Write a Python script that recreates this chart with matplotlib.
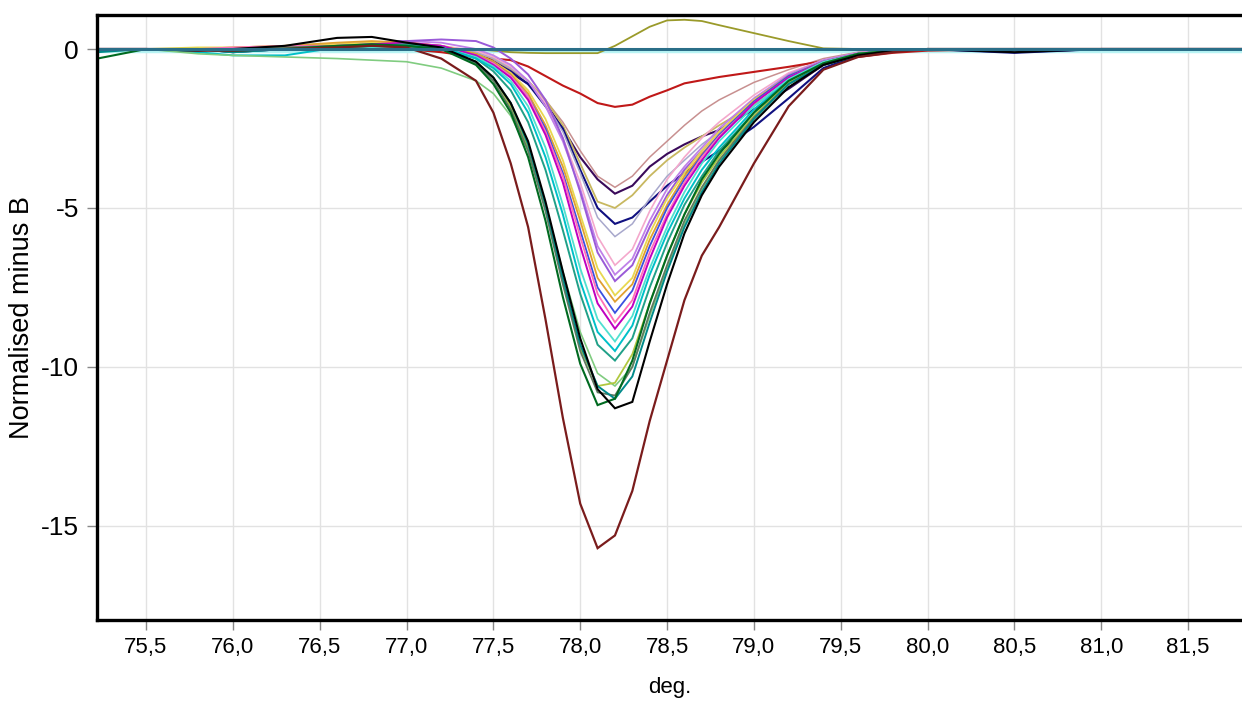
import matplotlib
matplotlib.use('Agg')
import matplotlib.pyplot as plt

plt.rcParams['font.family'] = ['Liberation Sans', 'DejaVu Sans']

# angle grid (deg.)
x_deg = [75.22, 75.5, 75.8, 76.0, 76.3, 76.6, 76.8, 77.0, 77.2, 77.4, 77.5,
         77.6, 77.7, 77.8, 77.9, 78.0, 78.1, 78.2, 78.3, 78.4, 78.5, 78.6,
         78.7, 78.8, 79.0, 79.2, 79.4, 79.6, 79.8, 80.0, 80.5, 81.0, 81.81]

maroon = [0.0, 0.0, -0.05, -0.05, 0.0, 0.05, 0.1, 0.05, -0.3, -1.0, -2.0,
          -3.6, -5.6, -8.5, -11.6, -14.3, -15.7, -15.3, -13.9, -11.7, -9.8, -7.9,
          -6.5, -5.6, -3.6, -1.8, -0.65, -0.25, -0.1, 0.0, 0.0, 0.0, 0.0]
black = [0.0, 0.0, -0.05, 0.0, 0.1, 0.35, 0.38, 0.2, 0.05, -0.4, -0.9,
         -1.7, -2.9, -4.8, -7.0, -9.1, -10.7, -11.3, -11.1, -9.2, -7.4, -5.8,
         -4.6, -3.7, -2.3, -1.2, -0.5, -0.2, -0.05, 0.0, -0.1, 0.0, 0.0]
dgreen = [-0.3, 0.0, 0.0, -0.05, 0.0, 0.1, 0.15, 0.1, 0.0, -0.5, -1.1,
          -2.0, -3.4, -5.4, -7.8, -9.9, -11.2, -11.0, -9.8, -8.0, -6.5, -5.2,
          -4.1, -3.3, -2.0, -1.0, -0.45, -0.15, -0.05, 0.0, 0.0, 0.0, 0.0]
teal = [-0.1, 0.0, 0.0, -0.1, 0.0, 0.05, 0.1, 0.1, 0.0, -0.4, -0.9,
        -1.7, -3.0, -4.9, -7.2, -9.3, -10.6, -11.0, -10.3, -8.6, -7.0, -5.6,
        -4.5, -3.6, -2.2, -1.1, -0.5, -0.2, -0.05, 0.0, 0.0, 0.0, 0.0]
grayolive = [0.0, 0.0, 0.0, 0.0, 0.05, 0.1, 0.1, 0.1, 0.0, -0.45, -1.0,
             -1.9, -3.2, -5.1, -7.4, -9.5, -10.8, -10.9, -10.0, -8.3, -6.8, -5.4,
             -4.35, -3.5, -2.15, -1.1, -0.5, -0.2, -0.05, 0.0, 0.0, 0.0, 0.0]
yellowgreen = [0.0, 0.0, 0.0, 0.0, 0.0, 0.05, 0.1, 0.1, 0.0, -0.4, -0.9,
               -1.8, -3.1, -5.0, -7.3, -9.4, -10.6, -10.5, -9.6, -8.0, -6.5, -5.2,
               -4.2, -3.4, -2.1, -1.05, -0.45, -0.15, -0.05, 0.0, 0.0, 0.0, 0.0]
lightgreen = [0.0, 0.0, -0.15, -0.2, -0.25, -0.3, -0.35, -0.4, -0.6, -1.0, -1.4,
              -2.1, -3.2, -4.9, -7.0, -8.9, -10.2, -10.6, -10.0, -8.4, -6.9, -5.5,
              -4.4, -3.5, -2.2, -1.1, -0.5, -0.2, -0.05, 0.0, 0.0, 0.0, 0.0]
cyan = [0.0, 0.0, -0.1, -0.2, -0.2, 0.05, 0.1, 0.1, 0.05, -0.3, -0.6,
        -1.1, -2.0, -3.4, -5.2, -7.3, -8.9, -9.5, -8.7, -7.1, -5.8, -4.7,
        -3.8, -3.1, -1.9, -1.0, -0.45, -0.15, -0.05, 0.0, 0.0, 0.0, 0.0]
seagreen = [-0.05, 0.0, 0.0, -0.1, 0.0, 0.05, 0.1, 0.15, 0.05, -0.3, -0.7,
            -1.3, -2.3, -3.8, -5.7, -7.7, -9.3, -9.8, -9.1, -7.5, -6.1, -4.9,
            -4.0, -3.2, -2.0, -1.05, -0.45, -0.15, -0.05, 0.0, 0.0, 0.0, 0.0]
turquoise = [0.0, 0.0, 0.0, 0.0, 0.0, 0.0, 0.05, 0.1, 0.05, -0.25, -0.55,
             -1.0, -1.8, -3.1, -4.9, -6.9, -8.5, -9.2, -8.4, -6.9, -5.6, -4.5,
             -3.6, -2.9, -1.8, -0.95, -0.4, -0.15, -0.05, 0.0, 0.0, 0.0, 0.0]
magenta = [0.0, 0.0, 0.0, 0.0, 0.0, 0.05, 0.15, 0.2, 0.1, -0.2, -0.5,
           -0.9, -1.6, -2.7, -4.2, -6.2, -8.0, -8.8, -8.1, -6.6, -5.3, -4.3,
           -3.5, -2.8, -1.7, -0.9, -0.4, -0.15, -0.05, 0.0, 0.0, 0.0, 0.0]
hotpink = [0.0, 0.0, 0.0, 0.05, 0.1, 0.1, 0.15, 0.15, 0.1, -0.2, -0.45,
           -0.85, -1.5, -2.6, -4.0, -5.9, -7.7, -8.6, -7.9, -6.4, -5.2, -4.2,
           -3.4, -2.75, -1.7, -0.9, -0.4, -0.15, -0.05, 0.0, 0.0, 0.0, 0.0]
blue = [0.0, 0.0, 0.0, -0.05, 0.0, 0.1, 0.15, 0.15, 0.1, -0.2, -0.45,
        -0.85, -1.5, -2.5, -3.9, -5.7, -7.5, -8.3, -7.6, -6.2, -5.0, -4.1,
        -3.35, -2.7, -1.65, -0.85, -0.4, -0.15, -0.05, 0.0, 0.0, 0.0, 0.0]
orange = [0.0, 0.0, 0.0, 0.0, 0.1, 0.2, 0.25, 0.2, 0.1, -0.15, -0.4,
          -0.8, -1.4, -2.4, -3.7, -5.4, -7.2, -7.95, -7.4, -6.0, -4.9, -4.0,
          -3.3, -2.7, -1.65, -0.85, -0.4, -0.15, -0.05, 0.0, 0.0, 0.0, 0.0]
yellow = [0.0, 0.0, 0.05, 0.05, 0.1, 0.15, 0.2, 0.2, 0.1, -0.15, -0.4,
          -0.75, -1.3, -2.2, -3.5, -5.2, -6.9, -7.75, -7.2, -5.8, -4.7, -3.9,
          -3.2, -2.6, -1.6, -0.85, -0.4, -0.15, -0.05, 0.0, 0.0, 0.0, 0.0]
purple = [0.0, 0.0, 0.0, 0.0, 0.05, 0.1, 0.2, 0.25, 0.3, 0.25, 0.05,
          -0.3, -0.8, -1.6, -2.8, -4.5, -6.4, -7.3, -6.8, -5.6, -4.6, -3.8,
          -3.2, -2.6, -1.6, -0.85, -0.4, -0.15, -0.05, 0.0, 0.0, 0.0, 0.0]
orchid = [0.0, 0.0, 0.0, 0.0, 0.05, 0.15, 0.2, 0.25, 0.2, 0.0, -0.2,
          -0.5, -1.0, -1.8, -2.9, -4.4, -6.2, -7.1, -6.6, -5.4, -4.4, -3.7,
          -3.1, -2.5, -1.55, -0.8, -0.35, -0.12, -0.05, 0.0, 0.0, 0.0, 0.0]
pink = [0.0, 0.0, 0.0, 0.0, 0.0, 0.05, 0.1, 0.15, 0.1, -0.05, -0.25,
        -0.55, -1.0, -1.7, -2.8, -4.2, -5.9, -6.8, -6.3, -5.1, -4.1, -3.4,
        -2.8, -2.3, -1.45, -0.75, -0.35, -0.12, -0.05, 0.0, 0.0, 0.0, 0.0]
lavender = [0.0, 0.0, 0.0, 0.0, 0.0, 0.05, 0.1, 0.1, 0.05, -0.1, -0.3,
            -0.6, -1.0, -1.7, -2.6, -3.9, -5.3, -5.9, -5.5, -4.7, -4.0, -3.5,
            -3.0, -2.6, -1.8, -1.0, -0.45, -0.15, -0.05, 0.0, 0.0, 0.0, 0.0]
navy = [0.0, 0.0, 0.0, -0.1, 0.0, 0.05, 0.1, 0.1, 0.05, -0.15, -0.4,
        -0.7, -1.1, -1.8, -2.5, -3.8, -5.0, -5.5, -5.3, -4.8, -4.3, -3.9,
        -3.55, -3.2, -2.45, -1.55, -0.6, -0.2, -0.05, 0.0, -0.12, 0.0, 0.0]
khaki = [0.0, 0.0, 0.0, 0.05, 0.1, 0.1, 0.15, 0.15, 0.1, -0.1, -0.3,
         -0.6, -1.0, -1.6, -2.4, -3.6, -4.8, -5.0, -4.6, -4.0, -3.5, -3.1,
         -2.75, -2.4, -1.75, -1.05, -0.5, -0.15, -0.05, 0.0, 0.0, 0.0, 0.0]
indigo = [0.0, 0.0, 0.0, 0.0, 0.0, 0.05, 0.1, 0.1, 0.05, -0.2, -0.4,
          -0.75, -1.1, -1.7, -2.5, -3.4, -4.1, -4.55, -4.3, -3.7, -3.3, -3.0,
          -2.75, -2.55, -1.9, -1.25, -0.5, -0.2, -0.05, 0.0, 0.0, 0.0, 0.0]
rosybrown = [0.0, 0.0, 0.0, 0.0, 0.0, 0.0, 0.05, 0.05, 0.0, -0.15, -0.35,
             -0.65, -1.0, -1.6, -2.3, -3.2, -4.0, -4.35, -4.0, -3.4, -2.9, -2.4,
             -1.95, -1.6, -1.05, -0.65, -0.3, -0.1, -0.05, 0.0, 0.0, 0.0, 0.0]
red = [0.0, 0.0, 0.0, 0.0, 0.0, 0.0, 0.05, 0.0, -0.1, -0.25, -0.3,
       -0.35, -0.55, -0.85, -1.15, -1.4, -1.7, -1.82, -1.75, -1.5, -1.3, -1.08,
       -0.98, -0.88, -0.72, -0.56, -0.38, -0.25, -0.12, -0.05, 0.0, 0.0, 0.0]
olive = [0.0, 0.0, 0.0, 0.0, 0.0, 0.0, 0.0, 0.0, 0.0, 0.0, -0.05,
         -0.1, -0.12, -0.13, -0.13, -0.13, -0.13, 0.1, 0.4, 0.7, 0.9, 0.92,
         0.88, 0.75, 0.5, 0.25, 0.02, 0.0, 0.0, 0.0, 0.0, 0.0, 0.0]
paleline = [-0.07, -0.07, -0.07, -0.07, -0.07, -0.07, -0.07, -0.07, -0.07, -0.07, -0.07,
            -0.07, -0.07, -0.07, -0.07, -0.07, -0.07, -0.07, -0.07, -0.07, -0.07, -0.07,
            -0.07, -0.07, -0.07, -0.07, -0.07, -0.07, -0.07, -0.07, -0.07, -0.07, -0.07]
zeroline = [0.0, 0.0, 0.0, 0.0, 0.0, 0.0, 0.0, 0.0, 0.0, 0.0, 0.0,
            0.0, 0.0, 0.0, 0.0, 0.0, 0.0, 0.0, 0.0, 0.0, 0.0, 0.0,
            0.0, 0.0, 0.0, 0.0, 0.0, 0.0, 0.0, 0.0, 0.0, 0.0, 0.0]

series = [
    (paleline, '#b8f4f4', 2.5),
    (rosybrown, '#c89090', 1.1),
    (red, '#c01818', 1.5),
    (olive, '#9a9a2a', 1.3),
    (indigo, '#3a0a5a', 1.5),
    (khaki, '#c8b860', 1.3),
    (navy, '#101080', 1.5),
    (lavender, '#a8a8cc', 1.1),
    (pink, '#f4a8cc', 1.2),
    (orchid, '#c080e8', 1.3),
    (purple, '#9a5ad8', 1.4),
    (yellow, '#e8d850', 1.3),
    (orange, '#e0a030', 1.3),
    (blue, '#3a50e0', 1.3),
    (hotpink, '#ff70b8', 1.3),
    (magenta, '#c000c0', 1.4),
    (turquoise, '#50e0d0', 1.3),
    (seagreen, '#20a088', 1.4),
    (cyan, '#00c0c8', 1.4),
    (lightgreen, '#80cc80', 1.2),
    (yellowgreen, '#b0c840', 1.3),
    (grayolive, '#607a60', 1.3),
    (teal, '#008a8a', 1.4),
    (dgreen, '#006a20', 1.5),
    (black, '#000000', 1.5),
    (maroon, '#7a1c1c', 1.6),
    (zeroline, '#2a6e88', 2.2),
]

fig = plt.figure(figsize=(12.42, 7.01), dpi=100)
ax = fig.add_axes([97 / 1242, 81 / 701, 1 - 97 / 1242, 605 / 701])

for vals, col, lw in series:
    ax.plot(x_deg, vals, color=col, lw=lw, solid_joinstyle='miter')

ax.set_xlim(75.218, 81.81)
ax.set_ylim(-17.96, 1.07)

xt = [75.5, 76.0, 76.5, 77.0, 77.5, 78.0, 78.5, 79.0, 79.5, 80.0, 80.5, 81.0, 81.5]
ax.set_xticks(xt)
ax.set_xticklabels([('%.1f' % v).replace('.', ',') for v in xt])
ax.set_yticks([0, -5, -10, -15])
ax.set_yticklabels(['0', '-5', '-10', '-15'])
ax.grid(True, color='#e2e2e2', lw=1.0)
ax.set_axisbelow(True)

for s in ['left', 'top', 'bottom']:
    ax.spines[s].set_linewidth(2.4)
    ax.spines[s].set_color('black')
ax.spines['right'].set_visible(False)
ax.tick_params(axis='both', colors='#888888', labelcolor='black',
               length=7, width=1.0)
ax.tick_params(axis='x', pad=5, labelsize=16)
ax.tick_params(axis='y', pad=6, labelsize=19)

ax.set_xlabel('deg.', fontsize=16, labelpad=14)
ax.set_ylabel('Normalised minus B', fontsize=19.5, labelpad=4)

fig.savefig('out.png', dpi=100)
